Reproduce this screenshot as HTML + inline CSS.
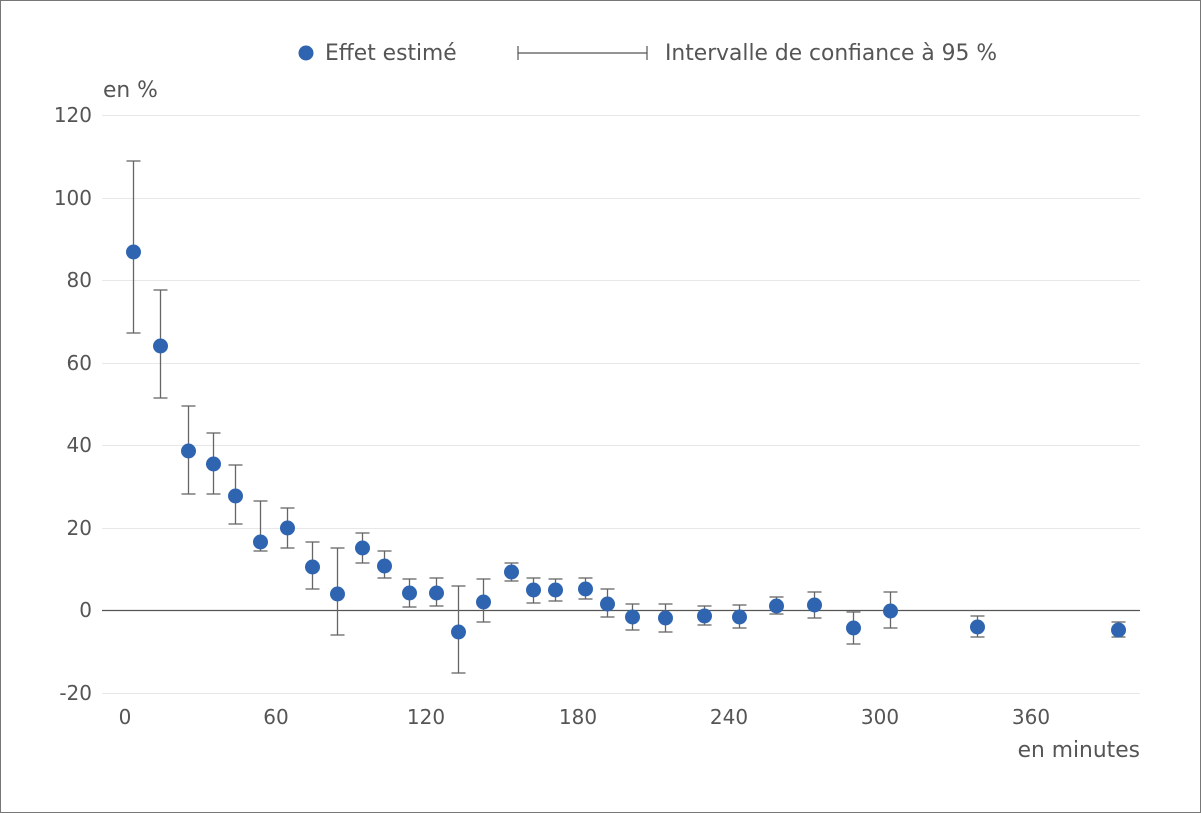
<!DOCTYPE html>
<html><head><meta charset="utf-8"><style>
html,body{margin:0;padding:0;background:#fff}
svg{display:block}
text{font-family:"DejaVu Sans",sans-serif;font-size:20px;fill:#555}
text.w{font-size:21.8px}
</style></head><body>
<svg width="1201" height="813" xmlns="http://www.w3.org/2000/svg">
<rect x="0.5" y="0.5" width="1200" height="812" fill="#fff" stroke="#777"/>
<g stroke="#e8e8e8" stroke-width="1">
<line x1="102" y1="115.5" x2="1140" y2="115.5"/>
<line x1="102" y1="198.5" x2="1140" y2="198.5"/>
<line x1="102" y1="280.5" x2="1140" y2="280.5"/>
<line x1="102" y1="363.5" x2="1140" y2="363.5"/>
<line x1="102" y1="445.5" x2="1140" y2="445.5"/>
<line x1="102" y1="528.5" x2="1140" y2="528.5"/>
<line x1="102" y1="693.5" x2="1140" y2="693.5"/>
</g>
<line x1="102" y1="610.5" x2="1140" y2="610.5" stroke="#555" stroke-width="1.2"/>
<g text-anchor="end">
<text x="92" y="122">120</text><text x="92" y="205">100</text><text x="92" y="287">80</text>
<text x="92" y="370">60</text><text x="92" y="452">40</text><text x="92" y="535">20</text>
<text x="92" y="617">0</text><text x="92" y="700">-20</text>
</g>
<g text-anchor="middle">
<text x="125" y="724">0</text><text x="276" y="724">60</text><text x="426" y="724">120</text>
<text x="578" y="724">180</text><text x="729" y="724">240</text><text x="880" y="724">300</text><text x="1031" y="724">360</text>
</g>
<text class="w" x="1140" y="757" text-anchor="end">en minutes</text>
<text class="w" x="103" y="97">en %</text>
<circle cx="306" cy="53" r="7.5" fill="#2e64b0"/>
<text class="w" x="325" y="60">Effet estimé</text>
<g stroke="#555" stroke-width="1.2"><line x1="518" y1="53" x2="647" y2="53"/><line x1="518" y1="46" x2="518" y2="60"/><line x1="647" y1="46" x2="647" y2="60"/></g>
<text class="w" x="665" y="60">Intervalle de confiance à 95 %</text>
<g id="pts" stroke="#666" stroke-width="1.3"></g>
<g id="dots" fill="#2e64b0"></g>
<script>
var d=[[133,252,161,333],[160,346,290,398],[188,451,406,494],[213,464,433,494],[235,496,465,524],[260,542,501,551],[287,528,508,548],[312,567,542,589],[337,594,548,635],[362,548,533,563],[384,566,551,578],[409,593,579,607],[436,593,578,606],[458,632,586,673],[483,602,579,622],[511,572,563,581],[533,590,578,603],[555,590,579,601],[585,589,578,599],[607,604,589,617],[632,617,604,630],[665,618,604,632],[704,616,606,625],[739,617,605,628],[776,606,597,614],[814,605,592,618],[853,628,612,644],[890,611,592,628],[977,627,616,637],[1118,630,622,637]];
var ns="http://www.w3.org/2000/svg",g=document.getElementById('pts'),c=document.getElementById('dots');
function L(x1,y1,x2,y2){var l=document.createElementNS(ns,'line');l.setAttribute('x1',x1);l.setAttribute('y1',y1);l.setAttribute('x2',x2);l.setAttribute('y2',y2);g.appendChild(l);}
d.forEach(function(p){var x=p[0]+0.5;L(x,p[2],x,p[3]);L(x-7,p[2],x+7,p[2]);L(x-7,p[3],x+7,p[3]);
var o=document.createElementNS(ns,'circle');o.setAttribute('cx',x);o.setAttribute('cy',p[1]);o.setAttribute('r',7.5);c.appendChild(o);});
</script>
</svg>
</body></html>
